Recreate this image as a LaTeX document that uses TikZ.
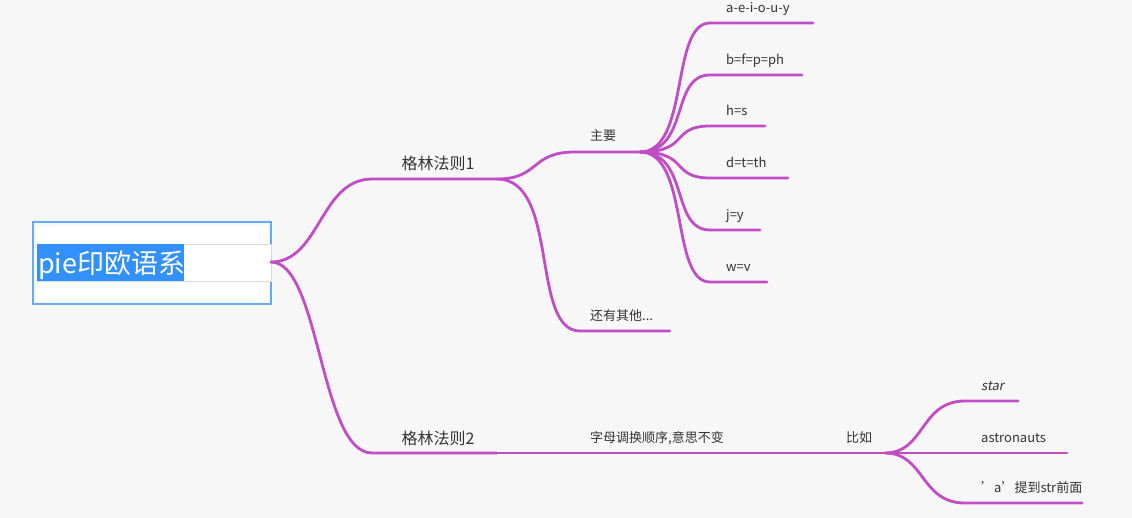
\documentclass[tikz,border=0pt]{standalone}
\usepackage{fontspec}
\setmainfont{Noto Sans CJK SC}
\newfontfamily\slfont[FakeSlant=0.2]{Noto Sans CJK SC}
\definecolor{pur}{HTML}{C04DC6}
\definecolor{bg}{HTML}{F7F7F7}
\definecolor{bbord}{HTML}{64AAFA}
\definecolor{bsel}{HTML}{3390FF}
\begin{document}
\begin{tikzpicture}[x=1pt,y=-1pt,
  br/.style={draw=pur,line width=2.8pt,line cap=round},
  lab/.style={inner sep=0pt,anchor=base west,font=\fontsize{13}{13}\selectfont,text=black!80},
  big/.style={inner sep=0pt,anchor=base,font=\fontsize{16}{16}\selectfont,text=black!80}]
\fill[bg] (0,0) rectangle (1132,518);
\useasboundingbox (0,0) rectangle (1132,518);
% root
\draw[draw=bbord,line width=1.5pt,fill=bg] (33,222) rectangle (271,304);
\draw[white,fill=white,rounded corners=4pt] (36,226) rectangle (269,301);
\draw[black!15,fill=white] (37,244) rectangle (271,281);
\fill[bsel] (37,244) rectangle (184,281);
\node[inner sep=0pt,anchor=base west,text=white,font=\fontsize{27}{27}\selectfont] (root) at (38,274) {pie印欧语系};
\coordinate (r) at (271,262);
% level 1
\coordinate (g1a) at (372,179); \coordinate (g1) at (497,179);
\coordinate (g2a) at (372,453); \coordinate (g2) at (497,453);
\node[big] (t1) at (438,170) {格林法则1};
\node[big] (t2) at (438,444) {格林法则2};
\draw[br] (r) .. controls (320,262) and (320,179) .. (g1a) -- (g1);
\draw[br] (r) .. controls (320,262) and (320,453) .. (g2a) -- (g2);
% 主要
\coordinate (zy) at (640,152);
\node[lab] (tzy) at (590,141) {主要};
\draw[br] (g1) .. controls (540,179) and (530,152) .. (575,152) -- (zy);
\foreach \y/\e/\t/\n in {23/813/a-e-i-o-u-y/a, 75/802/b=f=p=ph/b, 126/765/h=s/c, 178/788/d=t=th/d, 230/760/j=y/e, 282/767/w=v/f}{
  \node[lab] (\n) at (726,\y-10) {\t};
  \draw[br] (zy) .. controls (690,152) and (670,\y) .. (710,\y) -- (\e,\y);
}
% 还有其他
\node[lab] (hy) at (590,321) {还有其他...};
\coordinate (hye) at (670,331);
\draw[br] (g1) .. controls (560,179) and (530,331) .. (580,331) -- (hye);
% 字母调换
\node[lab] (zm) at (590,442) {字母调换顺序,意思不变};
\coordinate (zme) at (750,453); \coordinate (bre) at (885,453);
\node[lab] (bi) at (846,442) {比如};
\draw[br] (g2) -- (zme) -- (bre);
\node[lab,font=\fontsize{13}{13}\slfont] (s1) at (981,390) {star};
\node[lab] (s2) at (981,442) {astronauts};
\node[lab] (s3) at (981,492) {\symbol{39}a\symbol{39}提到str前面};
\draw[br] (bre) .. controls (925,453) and (920,401) .. (965,401) -- (1018,401);
\draw[br] (bre) -- (1067,453);
\draw[br] (bre) .. controls (925,453) and (920,503) .. (965,503) -- (1082,503);
\end{tikzpicture}
\end{document}
